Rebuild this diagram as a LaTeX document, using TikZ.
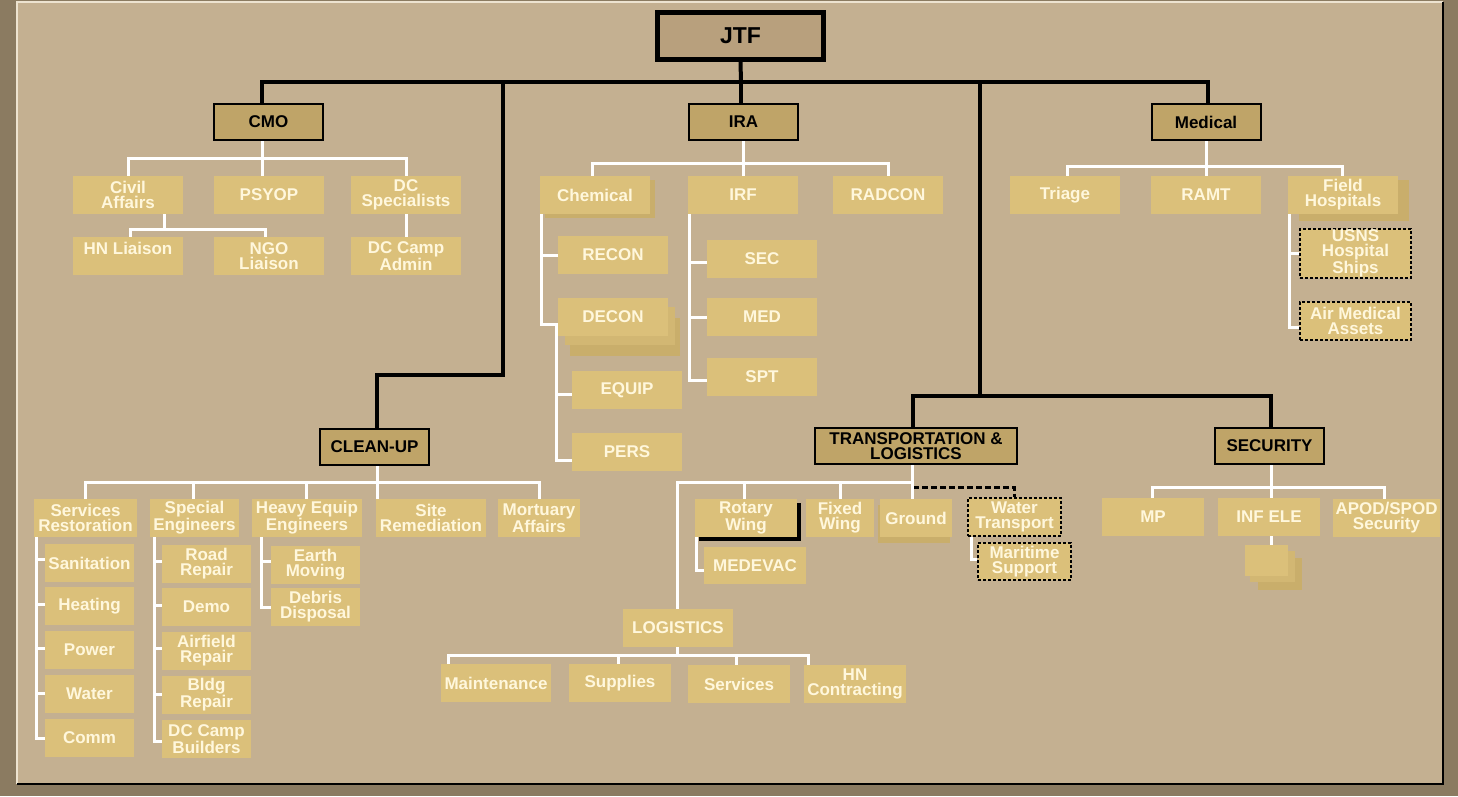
\documentclass[tikz,border=0pt]{standalone}
\usepackage{fontspec}
\setmainfont{Liberation Sans}
\definecolor{outerc}{HTML}{8B7B61}
\definecolor{panelc}{HTML}{C4B091}
\definecolor{boxc}{HTML}{DBC07A}
\definecolor{shadc}{HTML}{C9AE6B}
\definecolor{shadc2}{HTML}{D2B773}
\definecolor{hdrc}{HTML}{BFA468}
\definecolor{jtfc}{HTML}{B8A07D}
\definecolor{txtc}{HTML}{FFF7DC}
\definecolor{edgec}{HTML}{EDE3D0}
\tikzset{
  lbox/.style={fill=boxc, text=txtc, font=\bfseries\fontsize{17}{15}\selectfont, align=center,
    inner sep=0pt, minimum width=110pt, minimum height=38pt},
  dbox/.style={lbox, draw=black, line width=1.5pt, dash pattern=on 3pt off 2pt},
  hbox/.style={fill=hdrc, draw=black, line width=2pt, text=black,
    font=\bfseries\fontsize{17}{15}\selectfont, align=center, inner sep=0pt,
    minimum width=109pt, minimum height=36pt},
  bl/.style={draw=black, line width=4pt},
  wl/.style={draw=white, line width=3pt},
  dl/.style={draw=black, line width=3pt, dash pattern=on 6pt off 3pt},
}
\begin{document}
\begin{tikzpicture}[x=1pt,y=-1pt]
\useasboundingbox (0,0) rectangle (1458,796);
% frame
\fill[outerc] (0,0) rectangle (1458,796);
\fill[panelc] (17,2) rectangle (1443,784);
\draw[edgec, line width=1.2pt] (17,784) -- (17,2) -- (1443,2);
\draw[black, line width=1.2pt] (17,784) -- (1443,784) -- (1443,2);

% shadows
\fill[shadc] (545,180) rectangle (655,218);
\fill[shadc] (570,318) rectangle (680,356);
\fill[shadc2] (565,307) rectangle (675,345);
\fill[shadc] (1299,180) rectangle (1409,221);
\fill[black] (699,503) rectangle (801,541);
\fill[shadc] (878,505) rectangle (950,543);
\fill[shadc] (1258,558) rectangle (1302,590);
\fill[shadc2] (1250,551) rectangle (1295,582);

% top level
\node[hbox, fill=jtfc, line width=5pt, minimum width=166pt, minimum height=47pt,
  font=\bfseries\fontsize{23}{23}\selectfont] (jtf) at (740.5,36) {JTF};
\node[hbox] (cmo) at (268.5,122) {CMO};
\node[hbox] (ira) at (743.5,122) {IRA};
\node[hbox] (medical) at (1206,122) {Medical};
\node[hbox] (cleanup) at (374.5,447) {CLEAN-UP};
\node[hbox, minimum width=202pt] (tl) at (916,446) {TRANSPORTATION \&\\LOGISTICS};
\node[hbox] (security) at (1269.5,446) {SECURITY};

% CMO
\node[lbox] (civil) at (128,195) {Civil\\Affairs};
\node[lbox] (psyop) at (269,195) {PSYOP};
\node[lbox] (dcspec) at (406,195) {DC\\Specialists};
\node[lbox] (hnl) at (128,256) {HN Liaison\\~};
\node[lbox] (ngo) at (269,256) {NGO\\Liaison};
\node[lbox] (dccamp) at (406,256) {DC Camp\\Admin};

% IRA
\node[lbox] (chem) at (595,195) {Chemical};
\node[lbox] (irf) at (743,195) {IRF};
\node[lbox] (radcon) at (888,195) {RADCON};
\node[lbox] (recon) at (613,255) {RECON};
\node[lbox] (decon) at (613,317) {DECON};
\node[lbox] (equip) at (627,390) {EQUIP};
\node[lbox] (pers) at (627,452) {PERS};
\node[lbox] (irfsec) at (762,259) {SEC};
\node[lbox] (med) at (762,317) {MED};
\node[lbox] (spt) at (762,377) {SPT};

% Medical
\node[lbox] (triage) at (1065,195) {Triage};
\node[lbox] (ramt) at (1206,195) {RAMT};
\node[lbox] (fieldh) at (1343,195) {Field\\Hospitals};
\node[dbox, minimum width=111pt, minimum height=49pt] (usns) at (1355.5,253.5) {USNS\\Hospital\\Ships};
\node[dbox, minimum width=111pt] (airmed) at (1355.5,321) {Air Medical\\Assets};

% Clean-up
\node[lbox, minimum width=103pt] (servrest) at (85.5,518) {Services\\Restoration};
\node[lbox, minimum width=89pt] (speceng) at (194.5,518) {Special\\Engineers};
\node[lbox] (heavy) at (307,518) {Heavy Equip\\Engineers};
\node[lbox] (site) at (431,518) {Site\\Remediation};
\node[lbox, minimum width=82pt] (mort) at (539,518) {Mortuary\\Affairs};
\node[lbox, minimum width=89pt] (sanit) at (89.5,563) {Sanitation};
\node[lbox, minimum width=89pt] (heating) at (89.5,606) {Heating};
\node[lbox, minimum width=89pt] (power) at (89.5,650) {Power};
\node[lbox, minimum width=89pt] (water) at (89.5,694) {Water};
\node[lbox, minimum width=89pt] (comm) at (89.5,738) {Comm};
\node[lbox, minimum width=89pt] (road) at (206.5,564) {Road\\Repair};
\node[lbox, minimum width=89pt] (demo) at (206.5,607) {Demo};
\node[lbox, minimum width=89pt] (airfield) at (206.5,651) {Airfield\\Repair};
\node[lbox, minimum width=89pt] (bldg) at (206.5,695) {Bldg\\Repair};
\node[lbox, minimum width=89pt] (dccb) at (206.5,739) {DC Camp\\Builders};
\node[lbox, minimum width=89pt] (earth) at (315.5,565) {Earth\\Moving};
\node[lbox, minimum width=89pt] (debris) at (315.5,607) {Debris\\Disposal};

% Transportation & Logistics
\node[lbox, minimum width=102pt] (rotary) at (746,518) {Rotary\\Wing};
\node[lbox, minimum width=68pt] (fixed) at (840,518) {Fixed\\Wing};
\node[lbox, minimum width=72pt] (ground) at (916,518) {Ground};
\node[dbox, minimum width=93pt] (wtrans) at (1014.5,517) {Water\\Transport};
\node[dbox, minimum width=93pt, minimum height=37pt] (marit) at (1024.5,561.5) {Maritime\\Support};
\node[lbox, minimum width=102pt, minimum height=37pt] (medevac) at (755,565.5) {MEDEVAC};
\node[lbox] (logistics) at (678,628) {LOGISTICS};
\node[lbox] (maint) at (496,683) {Maintenance};
\node[lbox, minimum width=102pt] (supplies) at (620,683) {Supplies};
\node[lbox, minimum width=102pt] (services) at (739,684) {Services};
\node[lbox, minimum width=102pt] (hncontr) at (855,684) {HN\\Contracting};

% Security
\node[lbox, minimum width=102pt] (mp) at (1153,517) {MP};
\node[lbox, minimum width=102pt] (infele) at (1269,517) {INF ELE};
\node[lbox, minimum width=107pt] (apod) at (1386.5,518) {APOD/SPOD\\Security};
\node[lbox, minimum width=43pt, minimum height=31pt] (stack) at (1266.5,560.5) {};

% black connectors
\coordinate (bar) at (741,82);
\coordinate (jc) at (503,82);
\coordinate (jcb) at (503,375);
\coordinate (jt) at (980,82);
\coordinate (jtb) at (980,396);
\draw[bl] (jtf.south) -- (bar);
\draw[bl] ([xshift=-7pt]cmo.north) |- (bar) -| ([xshift=2pt]medical.north);
\draw[bl] (bar) -- (bar |- ira.north);
\draw[bl] (jc) -- (jcb) -| ([xshift=2.5pt]cleanup.north);
\draw[bl] (jt) -- (jtb);
\draw[bl] ([xshift=-3pt]tl.north) |- (jtb) -| ([xshift=1.5pt]security.north);

% CMO white
\coordinate (cmoj) at (262,158);
\draw[wl] (cmo.south -| cmoj) -- (cmoj) -- (cmoj |- psyop.north);
\draw[wl] (civil.north) |- (cmoj) -| (dcspec.north);
\coordinate (caj) at (164,229);
\draw[wl] (civil.south -| caj) -- (caj);
\draw[wl] ([xshift=2pt]hnl.north) |- (caj) -| ([xshift=-4pt]ngo.north);
\draw[wl] (dcspec.south) -- (dccamp.north);

% IRA white
\coordinate (iraj) at (743,163);
\draw[wl] (ira.south -| iraj) -- (iraj) -- (iraj |- irf.north);
\draw[wl] ([xshift=-3pt]chem.north) |- (iraj) -| (radcon.north);
\draw[wl] ([xshift=1.5pt]chem.south west) |- ([yshift=-7pt]decon.west);
\draw[wl] (recon.west) -- +(-17,0);
\coordinate (chj) at (556,324);
\draw[wl] (chj) |- ([yshift=-8pt]pers.west);
\draw[wl] ([yshift=-4pt]equip.west) -- +(-16,0);
\draw[wl] ([xshift=2pt]irf.south west) |- ([yshift=-3pt]spt.west);
\draw[wl] ([yshift=-3pt]irfsec.west) -- +(-17,0);
\draw[wl] (med.west) -- +(-17,0);

% Medical white
\coordinate (medj) at (1206,166);
\draw[wl] (medical.south) -- (ramt.north);
\draw[wl] ([xshift=2pt]triage.north) |- (medj) -| ([xshift=-1pt]fieldh.north);
\draw[wl] ([xshift=2pt]fieldh.south west) |- ([yshift=-6pt]airmed.west);
\draw[wl] (usns.west) -- +(-10,0);

% Clean-up white
\coordinate (cuj) at (377,482);
\draw[wl] (cleanup.south -| cuj) -- (cuj |- site.north);
\draw[wl] (servrest.north) |- (cuj) -| (mort.north);
\draw[wl] ([xshift=-1.5pt]speceng.north) -- ([xshift=-1.5pt]speceng.north |- cuj);
\draw[wl] ([xshift=-1pt]heavy.north) -- ([xshift=-1pt]heavy.north |- cuj);
\draw[wl] ([xshift=3pt]servrest.south west) |- (comm.west);
\draw[wl] ([yshift=4pt]sanit.west) -- +(-8,0);
\draw[wl] ([yshift=2pt]heating.west) -- +(-8,0);
\draw[wl] ([yshift=2pt]power.west) -- +(-8,0);
\draw[wl] ([yshift=1pt]water.west) -- +(-8,0);
\draw[wl] ([xshift=5pt]speceng.south west) |- ([yshift=-2pt]dccb.west);
\draw[wl] ([yshift=3pt]road.west) -- +(-7,0);
\draw[wl] ([yshift=2pt]demo.west) -- +(-7,0);
\draw[wl] ([yshift=3pt]airfield.west) -- +(-7,0);
\draw[wl] ([yshift=1pt]bldg.west) -- +(-7,0);
\draw[wl] ([xshift=10pt]heavy.south west) |- (debris.west);
\draw[wl] ([yshift=4pt]earth.west) -- +(-9,0);

% T&L white and dashed
\coordinate (tlj) at (912,482);
\coordinate (tld) at (913,487);
\draw[dl] (tld) -| (wtrans.north);
\draw[wl] (tl.south -| tlj) -- (tlj) -- (tlj |- ground.north);
\draw[wl] ([xshift=-1pt]logistics.north) |- (tlj);
\draw[wl] ([xshift=-2pt]rotary.north) -- ([xshift=-2pt]rotary.north |- tlj);
\draw[wl] (fixed.north) -- (fixed.north |- tlj);
\draw[wl] ([xshift=1.5pt]rotary.south west) |- ([yshift=-5pt]medevac.west);
\draw[wl] ([xshift=4pt]wtrans.south west) |- ([yshift=2.5pt]marit.west);
\coordinate (lgj) at (677,655);
\draw[wl] (logistics.south -| lgj) -- (lgj);
\draw[wl] ([xshift=-48pt]maint.north) |- (lgj) -| ([xshift=-47pt]hncontr.north);
\draw[wl] ([xshift=-2pt]supplies.north) -- ([xshift=-2pt]supplies.north |- lgj);
\draw[wl] ([xshift=-3pt]services.north) -- ([xshift=-3pt]services.north |- lgj);

% Security white
\coordinate (scj) at (1271,487);
\draw[wl] (security.south -| scj) -- (scj) -- (scj |- infele.north);
\draw[wl] ([xshift=-1pt]mp.north) |- (scj) -| ([xshift=-2.5pt]apod.north);
\draw[wl] (infele.south -| scj) -- (scj |- stack.north);
\end{tikzpicture}
\end{document}
